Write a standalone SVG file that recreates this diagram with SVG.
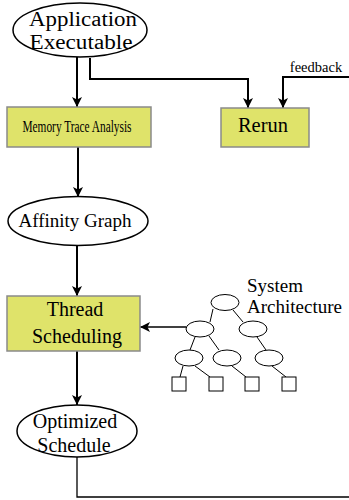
<svg xmlns="http://www.w3.org/2000/svg" width="349" height="500" viewBox="0 0 349 500">
<defs>
<marker id="ah" markerUnits="userSpaceOnUse" markerWidth="10" markerHeight="12" viewBox="0 0 10 12" refX="10" refY="6" orient="auto">
<path d="M0,1 L10,6 L0,11 L2.5,6 Z" fill="#000"/>
</marker>
<style>
text{font-family:'Liberation Serif','Times New Roman',serif;fill:#000;text-anchor:middle}
.ell{fill:#fff;stroke:#000;stroke-width:1.5}
.box{fill:#dfe36a;stroke:#8a8a8a;stroke-width:1.5}
.c{fill:none;stroke:#000;stroke-width:2}
.ct{fill:none;stroke:#000;stroke-width:1.3}
.tn{fill:#fff;stroke:#000;stroke-width:1}
.l{text-anchor:start}
</style>
</defs>
<rect width="349" height="500" fill="#fff"/>
<g id="connectors">
<path class="c" d="M77,57 V107" marker-end="url(#ah)"/>
<path class="c" d="M90,58 V79 H248 V108" marker-end="url(#ah)"/>
<path class="c" d="M349,77 H283 V108" marker-end="url(#ah)"/>
<path class="c" d="M78,147 V197" marker-end="url(#ah)"/>
<path class="c" d="M77,246 V296" marker-end="url(#ah)"/>
<path class="ct" d="M186,327 H140" marker-end="url(#ah)"/>
<path class="c" d="M77,351 V405" marker-end="url(#ah)"/>
<path class="ct" d="M77,457 V497 H349"/>
<text x="316" y="72" font-size="14.5">feedback</text>
</g>
<g id="app">
<ellipse class="ell" cx="80" cy="30" rx="67" ry="27"/>
<text x="83" y="26" font-size="20.5" textLength="108" lengthAdjust="spacingAndGlyphs">Application</text>
<text x="81" y="49" font-size="20.5" textLength="103" lengthAdjust="spacingAndGlyphs">Executable</text>
</g>
<g id="memory">
<rect class="box" x="7" y="107" width="144" height="40"/>
<text x="77" y="132" font-size="16" textLength="109" lengthAdjust="spacingAndGlyphs">Memory Trace Analysis</text>
</g>
<g id="rerun">
<rect class="box" x="221" y="108" width="88" height="39"/>
<text x="263" y="132" font-size="20.5">Rerun</text>
</g>
<g id="affinity">
<ellipse class="ell" cx="78" cy="221" rx="70" ry="24.5"/>
<text x="75" y="227" font-size="19">Affinity Graph</text>
</g>
<g id="thread">
<rect class="box" x="7" y="296" width="133" height="55"/>
<text x="75" y="316" font-size="20">Thread</text>
<text x="77" y="343" font-size="20">Scheduling</text>
</g>
<g id="arch">
<text class="l" x="247" y="292" font-size="19">System</text>
<text class="l" x="247" y="313" font-size="19">Architecture</text>
<path class="ct" style="stroke-width:1" d="M213,309 L210,322 M233,310 L243,322 M195,337 L190,350 M209,336 L219,350 M257,337 L266,350 M183,366 L180,377 M195,366 L210,377 M232,366 L246,377 M272,366 L286,377"/>
<ellipse class="tn" cx="225" cy="302.5" rx="14" ry="8"/>
<ellipse class="tn" cx="200" cy="329" rx="14" ry="8"/>
<ellipse class="tn" cx="253" cy="329" rx="14" ry="8"/>
<ellipse class="tn" cx="189" cy="358" rx="14" ry="8"/>
<ellipse class="tn" cx="227" cy="358" rx="14" ry="8"/>
<ellipse class="tn" cx="269" cy="358" rx="14" ry="8"/>
<rect class="tn" x="172" y="377" width="14" height="14"/>
<rect class="tn" x="209" y="377" width="14" height="14"/>
<rect class="tn" x="245" y="377" width="14" height="14"/>
<rect class="tn" x="282" y="377" width="14" height="14"/>
</g>
<g id="optimized">
<ellipse class="ell" cx="77" cy="431" rx="60" ry="26"/>
<text x="75" y="428" font-size="20">Optimized</text>
<text x="74" y="452" font-size="20">Schedule</text>
</g>
</svg>
